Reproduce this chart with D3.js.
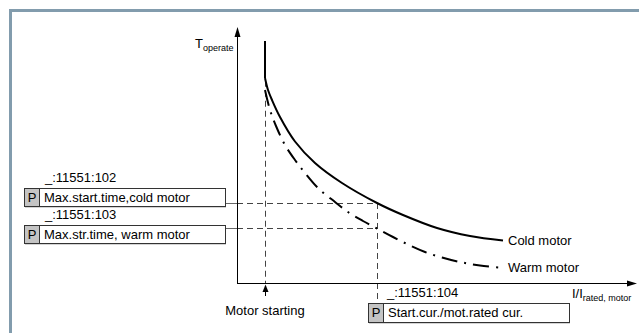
<!DOCTYPE html>
<html>
<head>
<meta charset="utf-8">
<script src="https://cdn.jsdelivr.net/npm/d3@7"></script>
<style>
  body { margin: 0; background: #fff; }
  svg { display: block; }
  text { font-family: "Liberation Sans", Arial, sans-serif; fill: #000; }
</style>
</head>
<body>
<svg id="chart" width="639" height="333"></svg>
<script>
// Motor starting-time supervision: operate time vs. I/I_rated

// Cold-motor characteristic: [I/I_rated, T_operate]
const coldLimit = [[0.7, 9.453], [0.7, 8.008]];
const coldCurve = [
  [0.7, 8.008], [0.775, 7.539], [0.875, 7.148], [1.075, 6.484], [1.45, 5.527],
  [1.95, 4.688], [2.625, 3.906], [3.5, 3.125], [4.15, 2.656], [5.0, 2.148],
  [5.825, 1.836], [6.65, 1.660]
];
// Warm-motor characteristic: [I/I_rated, T_operate]
const warmCurve = [
  [0.7, 7.539], [0.825, 6.758], [0.975, 6.133], [1.2, 5.391], [1.45, 4.805],
  [1.7, 4.297], [2.025, 3.711], [2.45, 3.164], [2.775, 2.773], [3.15, 2.422],
  [3.5, 2.129], [3.9, 1.797], [4.325, 1.465], [4.7, 1.211], [5.125, 0.996],
  [5.575, 0.820], [6.075, 0.684], [6.65, 0.586]
];

// Setting points
const motorStartCurrent = 0.7;
const startCurrent = 3.5;
const maxStartTimeCold = 3.125;
const maxStartTimeWarm = 2.129;

// Texts
const curveNames = ["Cold motor", "Warm motor"];
const paramAddresses = ["_:11551:102", "_:11551:103", "_:11551:104"];
const paramNames = ["Max.start.time,cold motor", "Max.str.time, warm motor", "Start.cur./mot.rated cur."];
const yAxisTitle = ["T", "operate"];
const xAxisTitle = ["I/I", "rated, motor"];
const startLabel = "Motor starting";

const svg = d3.select("#chart");

const x = d3.scaleLinear().domain([0, 10]).range([237, 637]);
const y = d3.scaleLinear().domain([0, 10]).range([283, 27]);
const crisp = v => Math.round(v) + 0.5;

// Frame
svg.append("line").attr("x1", 9).attr("x2", 639).attr("y1", 10.5).attr("y2", 10.5)
  .attr("stroke", "#829cad").attr("stroke-width", 3);
svg.append("line").attr("x1", 10.5).attr("x2", 10.5).attr("y1", 9).attr("y2", 333)
  .attr("stroke", "#829cad").attr("stroke-width", 3);

const dashStyle = sel => sel.attr("stroke", "#444").attr("stroke-width", 1)
  .attr("stroke-dasharray", "6,4").attr("fill", "none");

// Reference lines for the settings
svg.append("line")
  .attr("x1", crisp(x(motorStartCurrent))).attr("x2", crisp(x(motorStartCurrent)))
  .attr("y1", y(7.9)).attr("y2", y(0))
  .call(dashStyle);
svg.append("line")
  .attr("x1", x(0)).attr("x2", x(startCurrent))
  .attr("y1", crisp(y(maxStartTimeCold))).attr("y2", crisp(y(maxStartTimeCold)))
  .call(dashStyle);
svg.append("line")
  .attr("x1", x(0)).attr("x2", x(startCurrent))
  .attr("y1", crisp(y(maxStartTimeWarm))).attr("y2", crisp(y(maxStartTimeWarm)))
  .call(dashStyle);
svg.append("line")
  .attr("x1", crisp(x(startCurrent))).attr("x2", crisp(x(startCurrent)))
  .attr("y1", y(maxStartTimeCold)).attr("y2", 303)
  .call(dashStyle);

// Axes with arrowheads
const axisG = svg.append("g").attr("stroke", "#000").attr("stroke-width", 1);
axisG.append("line").attr("x1", x(0)).attr("x2", x(10) - 6)
  .attr("y1", y(0) + 0.5).attr("y2", y(0) + 0.5);
axisG.append("line").attr("x1", x(0) + 0.5).attr("x2", x(0) + 0.5)
  .attr("y1", y(0) + 1).attr("y2", y(10) + 6);
svg.append("path")
  .attr("d", `M${x(10)},${y(0) + 0.5} L${x(10) - 10},${y(0) - 2.5} L${x(10) - 10},${y(0) + 3.5} Z`)
  .attr("fill", "#000");
svg.append("path")
  .attr("d", `M${x(0) + 0.5},${y(10)} L${x(0) - 2.5},${y(10) + 10} L${x(0) + 3.5},${y(10) + 10} Z`)
  .attr("fill", "#000");

// Motor-starting marker arrow
const sx = crisp(x(motorStartCurrent));
svg.append("line").attr("x1", sx).attr("x2", sx).attr("y1", 296).attr("y2", 290)
  .attr("stroke", "#000").attr("stroke-width", 1);
svg.append("path")
  .attr("d", `M${sx},${y(0) + 1.5} L${sx - 3},${y(0) + 9} L${sx + 3},${y(0) + 9} Z`)
  .attr("fill", "#000");

// Characteristics
const line = d3.line().x(d => x(d[0])).y(d => y(d[1]));
const curve = d3.line().x(d => x(d[0])).y(d => y(d[1])).curve(d3.curveCatmullRom.alpha(0.5));

svg.append("path").datum(coldLimit).attr("d", line)
  .attr("fill", "none").attr("stroke", "#000").attr("stroke-width", 2);
svg.append("path").datum(coldCurve).attr("d", curve)
  .attr("fill", "none").attr("stroke", "#000").attr("stroke-width", 2);
svg.append("path").datum(warmCurve).attr("d", curve)
  .attr("fill", "none").attr("stroke", "#000").attr("stroke-width", 2)
  .attr("stroke-dasharray", "16,7,2,7");

// Curve names
svg.append("text").attr("x", x(coldCurve[coldCurve.length - 1][0]) + 5)
  .attr("y", y(coldCurve[coldCurve.length - 1][1]) + 4.5)
  .attr("font-size", 13).text(curveNames[0]);
svg.append("text").attr("x", x(warmCurve[warmCurve.length - 1][0]) + 5)
  .attr("y", y(warmCurve[warmCurve.length - 1][1]) + 4.5)
  .attr("font-size", 13).text(curveNames[1]);

// Axis titles
const yt = svg.append("text").attr("x", 195).attr("y", 48).attr("font-size", 13);
yt.append("tspan").text(yAxisTitle[0]);
yt.append("tspan").attr("font-size", 9).attr("dy", 3).text(yAxisTitle[1]);

const xt = svg.append("text").attr("x", 572).attr("y", 298).attr("font-size", 13);
xt.append("tspan").text(xAxisTitle[0]);
xt.append("tspan").attr("font-size", 9).attr("dy", 3).text(xAxisTitle[1]);

svg.append("text").attr("x", x(motorStartCurrent)).attr("y", 315)
  .attr("text-anchor", "middle").attr("font-size", 13).text(startLabel);

// Parameter boxes
function paramBox(bx, by, w, h, addrX, addrY, addr, name) {
  const g = svg.append("g");
  g.append("text").attr("x", addrX).attr("y", addrY).attr("font-size", 13).text(addr);
  g.append("line").attr("x1", bx + 1).attr("x2", bx + w + 1).attr("y1", by + h + 1).attr("y2", by + h + 1)
    .attr("stroke", "#aaa").attr("stroke-width", 1);
  g.append("rect").attr("x", bx + 0.5).attr("y", by + 0.5).attr("width", w).attr("height", h)
    .attr("fill", "#fff").attr("stroke", "#333").attr("stroke-width", 1);
  g.append("rect").attr("x", bx + 0.5).attr("y", by + 0.5).attr("width", 15).attr("height", h)
    .attr("fill", "#c4c4c4").attr("stroke", "#333").attr("stroke-width", 1);
  g.append("text").attr("x", bx + 8).attr("y", by + 14).attr("text-anchor", "middle")
    .attr("font-size", 13).text("P");
  g.append("text").attr("x", bx + 20).attr("y", by + 14).attr("font-size", 13).text(name);
}

// Connectors from the time-setting boxes to the operate-time axis
svg.append("line").attr("x1", 226).attr("x2", x(0))
  .attr("y1", crisp(y(maxStartTimeCold))).attr("y2", crisp(y(maxStartTimeCold)))
  .attr("stroke", "#666").attr("stroke-width", 1);
svg.append("line").attr("x1", 226).attr("x2", x(0))
  .attr("y1", crisp(y(maxStartTimeWarm))).attr("y2", crisp(y(maxStartTimeWarm)))
  .attr("stroke", "#666").attr("stroke-width", 1);

paramBox(24, 188, 201, 18, 45, 182, paramAddresses[0], paramNames[0]);
paramBox(24, 225, 201, 18, 45, 219, paramAddresses[1], paramNames[1]);
paramBox(368, 303, 201, 19, 387, 297, paramAddresses[2], paramNames[2]);
</script>
</body>
</html>
